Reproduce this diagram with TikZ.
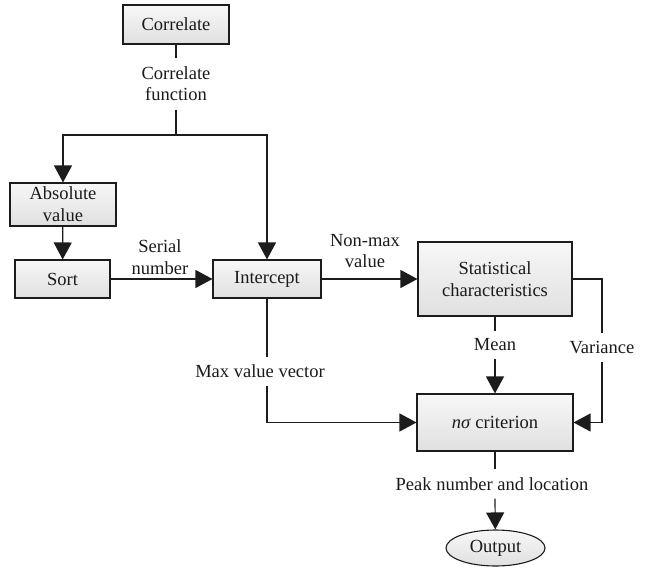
\documentclass[tikz,border=0pt]{standalone}
\usepackage{fontspec}
\setmainfont{Liberation Serif}
\usetikzlibrary{arrows.meta,shapes.geometric}
\definecolor{linec}{HTML}{1C1C1C}
\definecolor{boxtop}{HTML}{F7F7F7}
\definecolor{boxbot}{HTML}{E0E0E0}
\definecolor{textc}{HTML}{1A1A1A}
\begin{document}
\begin{tikzpicture}[x=1pt,y=-1pt,
  font=\fontsize{18.5}{21}\selectfont,
  text=textc,
  box/.style={draw=linec, line width=1.1pt, top color=boxtop, bottom color=boxbot,
              inner sep=0pt, align=center},
  lbl/.style={inner xsep=2pt, inner ysep=8pt, align=center},
  wire/.style={draw=linec, line width=1.2pt},
  arr/.style={wire, -{Triangle[length=17pt,width=18pt]}}]
\useasboundingbox (0,0) rectangle (660,567);

% processing blocks
\node[box, minimum width=106pt, minimum height=39pt] (corr) at (176,24.5) {Correlate};
\node[box, minimum width=106pt, minimum height=43pt,
      font=\fontsize{18.5}{22}\selectfont] (abs) at (63,204.5) {Absolute\\value};
\node[box, minimum width=95pt, minimum height=38pt] (sort) at (62.5,279) {Sort};
\node[box, minimum width=108pt, minimum height=38pt] (icpt) at (267,279) {Intercept};
\node[box, minimum width=154pt, minimum height=74pt,
      font=\fontsize{18.5}{22}\selectfont] (stat) at (495,279) {Statistical\\characteristics};
\node[box, minimum width=156pt, minimum height=57pt] (crit) at (495,422.5) {\textit{nσ} criterion};
\node[box, ellipse, minimum width=99pt, minimum height=36pt] (out) at (495.5,548) {Output};

% signal labels
\node[lbl, inner ysep=8.5pt] (cf) at (176,84) {Correlate\\function};
\coordinate (split) at (176,135);
\node[lbl, font=\fontsize{18.5}{22}\selectfont] (serial) at (160,257) {Serial\\number};
\node[lbl] (nonmax) at (365,251) {Non-max\\value};
\node[lbl] (mean) at (495,345) {Mean};
\node[lbl] (var) at (602,347.5) {Variance};
\node[lbl] (maxv) at (260,371.5) {Max value vector};
\node[lbl] (peak) at (492,484) {Peak number and location};

% connections
\draw[wire] (corr) -- (cf);
\draw[wire] (cf) -- (split);
\draw[arr] (split) -| (abs);
\draw[arr] (split) -| (icpt);
\draw[arr] (abs) -- (sort);
\draw[arr] (sort) -- (icpt);
\draw[arr] (icpt) -- (stat);
\draw[wire] (stat) -- (mean);
\draw[arr] (mean) -- (crit);
\draw[wire] (stat) -| (var);
\draw[arr] (var) |- (crit);
\draw[wire] (icpt.south) -- (icpt.south |- maxv.north);
\draw[arr] (icpt.south |- maxv.south) |- (crit);
\draw[wire] (crit.south) -- (crit.south |- peak.north);
\draw[arr] (crit.south |- peak.south) -- (out);
\end{tikzpicture}
\end{document}
